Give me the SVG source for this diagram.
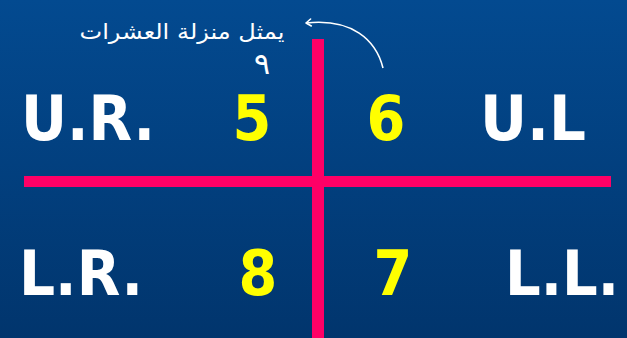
<svg xmlns="http://www.w3.org/2000/svg" width="627" height="338" viewBox="0 0 627 338">
<defs>
<linearGradient id="bg" x1="0" y1="0" x2="0" y2="1">
<stop offset="0" stop-color="#034a90"/>
<stop offset="1" stop-color="#01356d"/>
</linearGradient>
<marker id="ah" markerWidth="10" markerHeight="10" refX="7" refY="5" orient="auto" markerUnits="userSpaceOnUse">
<path d="M2,1.5 L7,5 L2,8.5" fill="none" stroke="#fff" stroke-width="1.6" stroke-linecap="round" stroke-linejoin="round"/>
</marker>
</defs>
<style>
.lbl{font-family:"DejaVu Sans Condensed","DejaVu Sans",sans-serif;font-weight:bold;font-size:62px;fill:#fff}
.num{font-family:"DejaVu Sans Condensed","DejaVu Sans",sans-serif;font-weight:bold;font-size:62px;fill:#ffff00;text-anchor:middle}
.hand{font-family:"DejaVu Sans",sans-serif;fill:#fff}
.bar{fill:#ff0066}
</style>
<rect width="627" height="338" fill="url(#bg)"/>
<g id="connectors">
<rect class="bar" x="312" y="39" width="12" height="299"/>
<rect class="bar" x="24" y="176" width="587" height="11"/>
<path d="M383,68 C376,40 352,18 306,23" fill="none" stroke="#fff" stroke-width="1.6" marker-end="url(#ah)"/>
</g>
<g id="note">
<text class="hand" x="182" y="39" font-size="21" text-anchor="middle" textLength="205" lengthAdjust="spacingAndGlyphs">يمثل منزلة العشرات</text>
<text class="hand" x="262" y="74" font-size="30" text-anchor="middle">٩</text>
</g>
<g id="ur"><text class="lbl" x="21" y="140" textLength="134" lengthAdjust="spacingAndGlyphs">U.R.</text></g>
<g id="n5"><text class="num" x="252" y="140">5</text></g>
<g id="n6"><text class="num" x="386" y="140">6</text></g>
<g id="ul"><text class="lbl" x="480" y="140" textLength="106" lengthAdjust="spacingAndGlyphs">U.L</text></g>
<g id="lr"><text class="lbl" x="19" y="295" textLength="124" lengthAdjust="spacingAndGlyphs">L.R.</text></g>
<g id="n8"><text class="num" x="258" y="295">8</text></g>
<g id="n7"><text class="num" x="393" y="295">7</text></g>
<g id="ll"><text class="lbl" x="505" y="295" textLength="114" lengthAdjust="spacingAndGlyphs">L.L.</text></g>
</svg>
